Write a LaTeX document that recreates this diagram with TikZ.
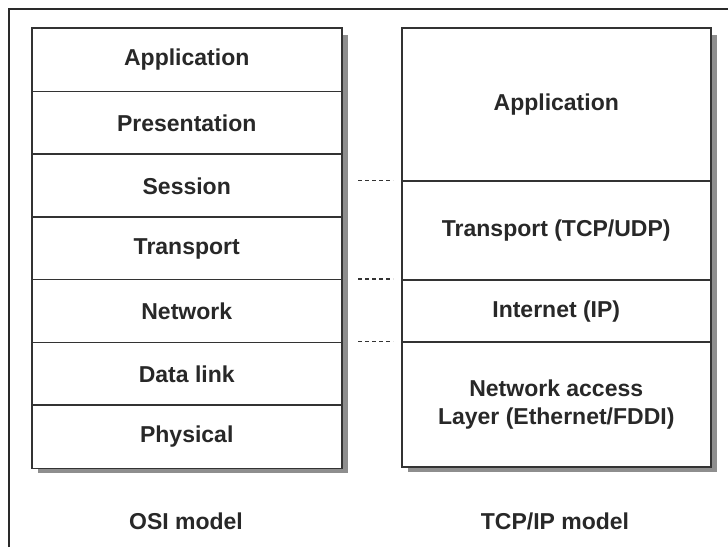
\documentclass[tikz,border=0pt]{standalone}
\usepackage{fontspec}
\setmainfont{Liberation Sans}
\usetikzlibrary{calc}
\definecolor{ink}{HTML}{282828}
\definecolor{edge}{HTML}{333333}
\definecolor{shade}{HTML}{8E8E8E}
\definecolor{frame}{HTML}{2A2A2A}
\tikzset{
  layer/.style={draw=edge, line width=1.5pt, fill=white, minimum width=310pt,
    inner sep=0pt, anchor=north west, text=ink,
    font=\fontsize{23}{28}\selectfont\bfseries, align=center},
  caption/.style={text=ink, font=\fontsize{23}{28}\selectfont\bfseries},
  shadowbox/.style={fill=shade},
  dots/.style={draw=edge, line width=1.5pt, dash pattern=on 4pt off 3pt}
}
\begin{document}
\begin{tikzpicture}[x=1pt,y=-1pt]
\useasboundingbox (0,0) rectangle (728,547);
% outer frame (top and left edges visible)
\draw[frame, line width=1.1pt] (9,547) -- (9,9) -- (728,9);
% shadows
\fill[shadowbox] (38,35) rectangle (348,473);
\fill[shadowbox] (408,35) rectangle (717,472);
% OSI model layers
\node[layer, minimum height=63.9pt] (app)  at (31,27)    {Application};
\node[layer, minimum height=63.4pt] (pres) at (31,90.6)  {Presentation};
\node[layer, minimum height=63.4pt] (sess) at (31,153.4) {Session};
\node[layer, minimum height=63.4pt] (tran) at (31,216.1) {Transport};
\node[layer, minimum height=63.4pt] (net)  at (31,278.8) {Network};
\node[layer, minimum height=63.4pt] (dl)   at (31,341.5) {Data link};
\node[layer, minimum height=63.4pt] (phy)  at (31,404.2) {Physical};
% TCP/IP model layers
\node[layer, minimum width=309pt, minimum height=154pt] (tapp) at (401,27)  {Application};
\node[layer, minimum width=309pt, minimum height=100pt] (ttr)  at (401,180) {Transport (TCP/UDP)};
\node[layer, minimum width=309pt, minimum height=63pt]  (tint) at (401,279) {Internet (IP)};
\node[layer, minimum width=309pt, minimum height=125pt] (tna)  at (401,341) {Network access\\Layer (Ethernet/FDDI)};
% dotted correspondences
\coordinate (d1a) at (358,180.5); \coordinate (d1b) at (393,180.5);
\coordinate (d2a) at (358,279);   \coordinate (d2b) at (393,279);
\coordinate (d3a) at (358,341.5); \coordinate (d3b) at (393,341.5);
\draw[dots] (d1a) -- (d1b);
\draw[dots] (d2a) -- (d2b);
\draw[dots] (d3a) -- (d3b);
% captions
\node[caption] (osi) at (186,521) {OSI model};
\node[caption] (tcp) at (555,521) {TCP/IP model};
\end{tikzpicture}
\end{document}
